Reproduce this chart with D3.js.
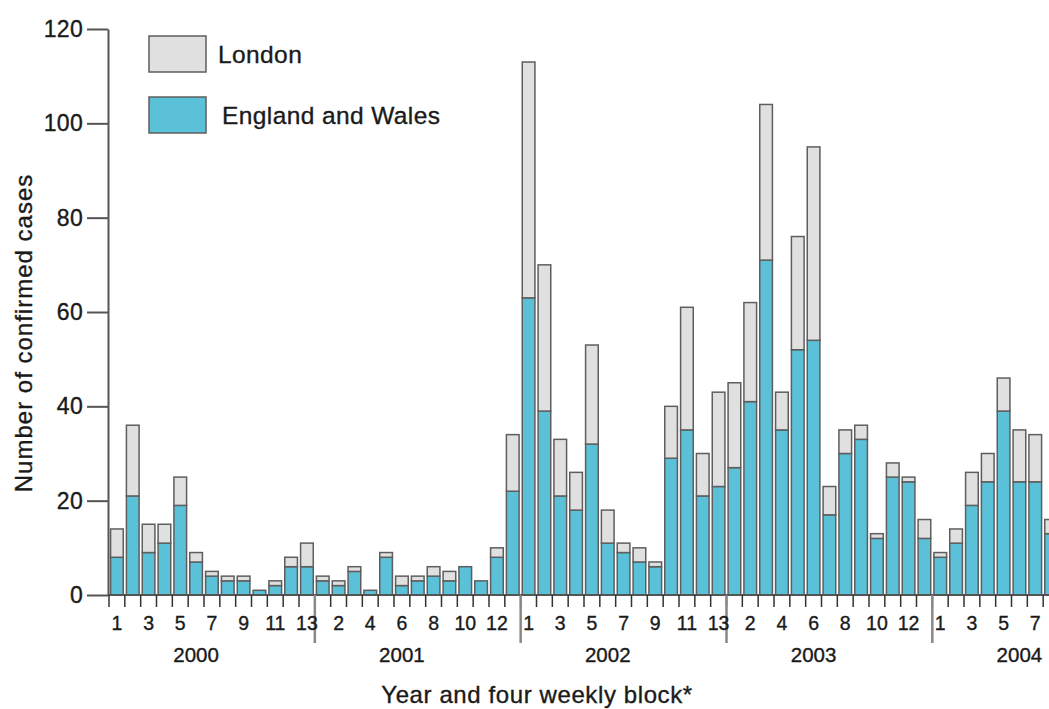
<!DOCTYPE html>
<html>
<head>
<meta charset="utf-8">
<script src="https://cdn.jsdelivr.net/npm/d3@7"></script>
<style>
  body { margin: 0; background: #fff; }
  svg { display: block; font-family: "Liberation Sans", Arial, Helvetica, sans-serif; }
  svg text { stroke: #1a1a1a; stroke-width: 0.35px; }
</style>
</head>
<body>
<div id="chart"></div>
<script>
// years and how many four weekly blocks each one shows
var years = [2000, 2001, 2002, 2003, 2004];
var blocksPerYear = [13, 13, 13, 13, 8];

// England and Wales (blue, lower part of each bar)
var ewValues = [
  8, 21, 9, 11, 19, 7, 4, 3, 3, 1, 2, 6, 6,        // 2000
  3, 2, 5, 1, 8, 2, 3, 4, 3, 6, 3, 8, 22,          // 2001
  63, 39, 21, 18, 32, 11, 9, 7, 6, 29, 35, 21, 23, // 2002
  27, 41, 71, 35, 52, 54, 17, 30, 33, 12, 25, 24, 12, // 2003
  8, 11, 19, 24, 39, 24, 24, 13                    // 2004
];

// London (grey, stacked on top)
var londonValues = [
  6, 15, 6, 4, 6, 2, 1, 1, 1, 0, 1, 2, 5,
  1, 1, 1, 0, 1, 2, 1, 2, 2, 0, 0, 2, 12,
  50, 31, 12, 8, 21, 7, 2, 3, 1, 11, 26, 9, 20,
  18, 21, 33, 8, 24, 41, 6, 5, 3, 1, 3, 1, 4,
  1, 3, 7, 6, 7, 11, 10, 3
];

var yTicks = [0, 20, 40, 60, 80, 100, 120];

var w = 1049, h = 709;
var blue = "#5bc1d9", grey = "#e0e0e0", edge = "#5e5e5e", ink = "#1a1a1a";

// build one row per block
var data = [];
var k = 0;
years.forEach(function(yr, yi) {
  for (var b = 1; b <= blocksPerYear[yi]; b++) {
    data.push({ key: yr + "-" + b, year: yr, block: b, idx: k, ew: ewValues[k], london: londonValues[k] });
    k++;
  }
});

var svg = d3.select("#chart")
  .append("svg")
  .attr("width", w)
  .attr("height", h);

var x = d3.scaleBand()
  .domain(data.map(function(d) { return d.key; }))
  .range([109, 1059])
  .paddingInner(0.2)
  .paddingOuter(0.1);

var y = d3.scaleLinear()
  .domain([0, 120])
  .range([595, 29]);

var gap = (x.step() - x.bandwidth()) / 2;
function leftEdge(key) { return x(key) - gap; }

// stacked bars
var stack = d3.stack().keys(["ew", "london"]);
var series = stack(data);

svg.append("g")
  .selectAll("g")
  .data(series)
  .enter()
  .append("g")
  .attr("fill", function(s) { return s.key === "ew" ? blue : grey; })
  .selectAll("rect")
  .data(function(s) { return s.filter(function(d) { return d[1] > d[0]; }); })
  .enter()
  .append("rect")
  .attr("x", function(d) { return x(d.data.key); })
  .attr("y", function(d) { return y(d[1]); })
  .attr("width", x.bandwidth())
  .attr("height", function(d) { return y(d[0]) - y(d[1]); })
  .attr("stroke", edge)
  .attr("stroke-width", 1.5);

// y axis
var yAxis = svg.append("g")
  .attr("transform", "translate(108,0)")
  .call(d3.axisLeft(y).tickValues(yTicks).tickSize(21).tickSizeOuter(0).tickPadding(4));
yAxis.select(".domain").attr("stroke", "#555").attr("stroke-width", 2);
yAxis.selectAll(".tick line").attr("stroke", "#555").attr("stroke-width", 2);
yAxis.selectAll(".tick text")
  .attr("fill", ink)
  .attr("font-size", "23px")
  .style("letter-spacing", "0.3px");

// x baseline
svg.append("line")
  .attr("x1", 108).attr("x2", w)
  .attr("y1", y(0)).attr("y2", y(0))
  .attr("stroke", "#555")
  .attr("stroke-width", 2);

// x tick marks at block boundaries
svg.append("g")
  .selectAll("line")
  .data(data)
  .enter()
  .append("line")
  .attr("x1", function(d) { return leftEdge(d.key); })
  .attr("x2", function(d) { return leftEdge(d.key); })
  .attr("y1", y(0))
  .attr("y2", y(0) + 12)
  .attr("stroke", "#333")
  .attr("stroke-width", 1.5);

// year separators
var firstOfYear = data.filter(function(d) { return d.block === 1 && d.idx > 0; });
svg.append("g")
  .selectAll("line")
  .data(firstOfYear)
  .enter()
  .append("line")
  .attr("x1", function(d) { return leftEdge(d.key); })
  .attr("x2", function(d) { return leftEdge(d.key); })
  .attr("y1", y(0))
  .attr("y2", 643)
  .attr("stroke", "#888")
  .attr("stroke-width", 2.5);

// block labels, every other block
svg.append("g")
  .selectAll("text")
  .data(data.filter(function(d) { return d.idx % 2 === 0; }))
  .enter()
  .append("text")
  .text(function(d) { return d.block; })
  .attr("x", function(d) { return x(d.key) + x.bandwidth() / 2; })
  .attr("y", 630)
  .attr("text-anchor", "middle")
  .attr("font-size", "19.5px")
  .attr("fill", ink);

// year labels, under the 6th block of each year
svg.append("g")
  .selectAll("text")
  .data(years)
  .enter()
  .append("text")
  .text(function(d) { return d; })
  .attr("x", function(d) { return x(d + "-6") + x.bandwidth() / 2; })
  .attr("y", 662)
  .attr("text-anchor", "middle")
  .attr("font-size", "20.5px")
  .attr("fill", ink);

// axis titles
svg.append("text")
  .text("Year and four weekly block*")
  .attr("x", 537)
  .attr("y", 703)
  .attr("text-anchor", "middle")
  .attr("font-size", "24px")
  .style("letter-spacing", "0.6px")
  .attr("fill", ink);

svg.append("text")
  .text("Number of confirmed cases")
  .attr("transform", "translate(32,333) rotate(-90)")
  .attr("text-anchor", "middle")
  .attr("font-size", "24px")
  .style("letter-spacing", "1px")
  .attr("fill", ink);

// legend
var legendItems = [
  { label: "London", color: grey, top: 36 },
  { label: "England and Wales", color: blue, top: 97 }
];
var legend = svg.append("g")
  .selectAll("g")
  .data(legendItems)
  .enter()
  .append("g");

legend.append("rect")
  .attr("x", 149)
  .attr("y", function(d) { return d.top; })
  .attr("width", 57)
  .attr("height", 36)
  .attr("fill", function(d) { return d.color; })
  .attr("stroke", edge)
  .attr("stroke-width", 1.5);

legend.append("text")
  .text(function(d) { return d.label; })
  .attr("x", function(d, i) { return i === 0 ? 218 : 222; })
  .attr("y", function(d) { return d.top + 27; })
  .attr("font-size", "24.5px")
  .style("letter-spacing", "0.4px")
  .attr("fill", ink);
</script>
</body>
</html>
